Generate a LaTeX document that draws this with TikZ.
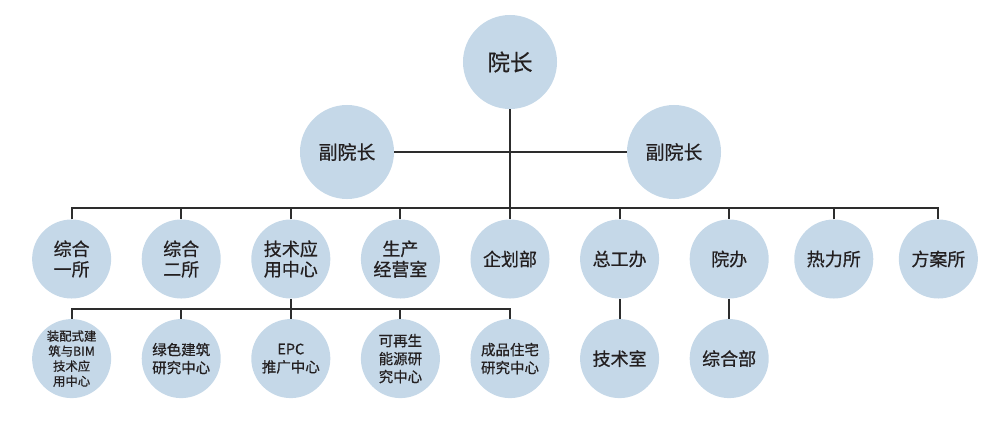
\documentclass[tikz,border=0pt]{standalone}
\usepackage{fontspec}
\setmainfont[RawFeature={embolden=0.6}]{Noto Sans CJK SC}
\usetikzlibrary{positioning,calc}
\definecolor{nodeblue}{RGB}{197,216,232}
\definecolor{linegray}{RGB}{45,45,45}
\definecolor{textdark}{RGB}{35,31,32}
\tikzset{
    head/.style={
        circle,
        fill=nodeblue,
        text=textdark,
        inner sep=0pt,
        minimum size=2.35cm,
        font=\fontsize{16}{18}\selectfont
    },
    vice/.style={
        head,
        font=\fontsize{13.5}{16}\selectfont
    },
    unit/.style={
        circle,
        fill=nodeblue,
        text=textdark,
        inner sep=0pt,
        minimum size=1.975cm,
        font=\fontsize{12.8}{14.5}\selectfont
    },
    subunit/.style={
        unit,
        font=\fontsize{10.3}{12.8}\selectfont
    },
    tinyunit/.style={
        unit,
        font=\fontsize{8.8}{10.7}\selectfont
    },
    link/.style={
        draw=linegray,
        line width=1.4pt
    },
}
\begin{document}
\begin{tikzpicture}[x=0.025cm, y=0.025cm, node distance = 0.5cm and 0.75cm, align=center]
    \useasboundingbox (0,0) rectangle (1000,-434);

    % top
    \node[head] (dean) at (510,-62) {院长};
    \node[vice] (vdeanL) at (347,-152) {副院长};
    \node[vice] (vdeanR) at (674,-152) {副院长};

    % departments
    \node[unit] (plan) at (510,-259) {企划部};
    \node[unit, left= of plan] (prodop) {生产\\经营室};
    \node[unit, left= of prodop] (techapp) {技术应\\用中心};
    \node[unit, left= of techapp] (gen2) {综合\\二所};
    \node[unit, left= of gen2] (gen1) {综合\\一所};
    \node[unit, right= of plan] (chief) {总工办};
    \node[unit, right= of chief] (office) {院办};
    \node[unit, right=0.625cm of office] (thermal) {热力所};
    \node[unit, right=0.625cm of thermal] (scheme) {方案所};

    % sub units
    \node[tinyunit, below= of gen1] (prefab) {装配式建\\筑与BIM\\技术应\\用中心};
    \node[subunit, below= of gen2] (green) {绿色建筑\\研究中心};
    \node[subunit, below= of techapp] (epc) {EPC\\推广中心};
    \node[subunit, below= of prodop] (renew) {可再生\\能源研\\究中心};
    \node[subunit, below= of plan] (housing) {成品住宅\\研究中心};
    \node[unit, below= of chief] (techroom) {技术室};
    \node[unit, below= of office] (genoffice) {综合部};

    % lines
    \draw[link] (vdeanL) -- (vdeanR);
    \draw[link] (dean) -- (plan);
    \draw[link] (gen1.north) -- ++(0,11) coordinate (busL) -| (scheme.north);
    \foreach \n in {gen2,techapp,prodop,chief,office,thermal}
        \draw[link] (\n.north) -- (\n.north |- busL);
    \draw[link] (prefab.north) -- ++(0,10) coordinate (busS) -| (housing.north);
    \foreach \n in {green,epc,renew}
        \draw[link] (\n.north) -- (\n.north |- busS);
    \draw[link] (techapp) -- (techapp |- busS);
    \draw[link] (chief) -- (techroom);
    \draw[link] (office) -- (genoffice);
\end{tikzpicture}
\end{document}
